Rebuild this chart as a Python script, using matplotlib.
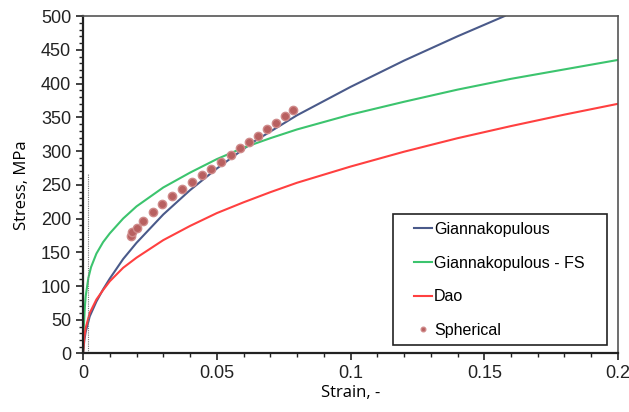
import numpy as np
import matplotlib.pyplot as plt
from matplotlib.patches import Rectangle
from matplotlib.ticker import MultipleLocator

# values (strain, stress in MPa)
gian_strain = [0, 0.0005, 0.001, 0.0025, 0.005, 0.0075, 0.01, 0.015, 0.02, 0.03,
               0.04, 0.05, 0.06, 0.0639, 0.08, 0.1, 0.12, 0.14, 0.1576]
gian_stress = [0, 20, 32, 55, 77, 95, 111, 140, 164, 206,
               242, 274, 303, 314, 353, 395, 434, 470, 500]

fs_strain = [0, 0.0003, 0.0007, 0.001, 0.002, 0.003, 0.005, 0.0075, 0.01, 0.015,
             0.02, 0.03, 0.04, 0.05, 0.06, 0.07, 0.08, 0.1, 0.12, 0.14, 0.16, 0.18, 0.2]
fs_stress = [0, 40, 70, 85, 112, 128, 148, 165, 178, 200,
             218, 246, 268, 288, 305, 319, 332, 354, 373, 391, 407, 421, 435]

dao_strain = [0, 0.0005, 0.001, 0.0025, 0.005, 0.0075, 0.01, 0.015, 0.02, 0.03,
              0.04, 0.05, 0.06, 0.07, 0.08, 0.1, 0.12, 0.14, 0.16, 0.18, 0.2]
dao_stress = [0, 25, 38, 60, 80, 94, 107, 127, 142, 168,
              189, 208, 224, 239, 253, 277, 299, 319, 337, 354, 370]

sph_strain = [0.0179, 0.0184, 0.0201, 0.0226, 0.0260, 0.0296, 0.0333, 0.0370, 0.0407,
              0.0445, 0.0480, 0.0516, 0.0552, 0.0588, 0.0622, 0.0656, 0.0687, 0.0720,
              0.0754, 0.0786]
sph_stress = [174, 180, 186, 197, 210, 222, 234, 244, 254,
              264, 273, 284, 294, 304, 314, 323, 333, 342, 352, 361]

yield_strain = 0.002
yield_top = 268

plt.rcParams['font.family'] = 'Liberation Sans'

fig = plt.figure(figsize=(6.29, 4.12), dpi=100)
ax = fig.add_axes([0.132, 0.142, 0.8505, 0.819])

ax.plot(gian_strain, gian_stress, color='#4a5a8a', lw=1.5, label='Giannakopulous')
ax.plot(fs_strain, fs_stress, color='#3cc46e', lw=1.5, label='Giannakopulous - FS')
ax.plot(dao_strain, dao_stress, color='#ff4040', lw=1.5, label='Dao')
ax.plot(sph_strain, sph_stress, 'o', color='#b86060', mec='#cf8a8a', ms=6,
        label='Spherical')
ax.plot([yield_strain, yield_strain], [0, yield_top], ls=(0, (1, 1)),
        color='#777777', lw=0.8)

ax.set_xlim(0, 0.2)
ax.set_ylim(0, 500)
ax.set_xticks([0, 0.05, 0.1, 0.15, 0.2])
ax.set_xticklabels(['0', '0.05', '0.1', '0.15', '0.2'])
ax.yaxis.set_major_locator(MultipleLocator(50))
ax.yaxis.set_minor_locator(MultipleLocator(10))
ax.xaxis.set_minor_locator(MultipleLocator(0.01))
ax.tick_params(which='both', direction='out', labelsize=13, colors='#222222')
ax.tick_params(which='major', length=5, width=1.2)
ax.tick_params(which='minor', length=3, width=1)

for side in ['left', 'bottom']:
    ax.spines[side].set_linewidth(1.6)
    ax.spines[side].set_color('#222222')
for side in ['top', 'right']:
    ax.spines[side].set_linewidth(1.2)
    ax.spines[side].set_color('#555555')

ax.set_xlabel('Strain, -', fontsize=12, family='Open Sans', labelpad=2)
ax.set_ylabel('Stress, MPa', fontsize=12, family='Open Sans', labelpad=8)

# legend box drawn separately so the padding matches the original
ax.add_patch(Rectangle((0.579, 0.025), 0.4, 0.388, transform=ax.transAxes,
                       fill=True, facecolor='white', edgecolor='#222222',
                       lw=1.2, zorder=4))
leg = ax.legend(loc='upper left', bbox_to_anchor=(0.619, 0.39), fontsize=11.5,
                handlelength=1.1, handletextpad=0.15, labelspacing=1.17,
                borderpad=0, frameon=False, borderaxespad=0, markerscale=0.55)
leg.set_zorder(5)

plt.savefig('out.png', dpi=100)
